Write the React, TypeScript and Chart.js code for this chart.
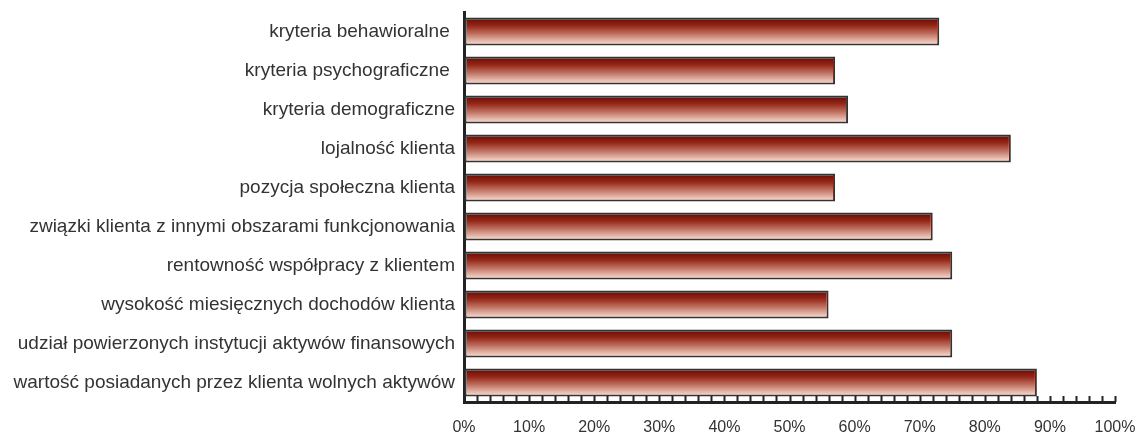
import React, { useEffect, useRef } from "react";
import { Chart, registerables } from "chart.js";

Chart.register(...registerables);

const categories = [
  "kryteria behawioralne ",
  "kryteria psychograficzne ",
  "kryteria demograficzne",
  "lojalność klienta",
  "pozycja społeczna klienta",
  "związki klienta z innymi obszarami funkcjonowania",
  "rentowność współpracy z klientem",
  "wysokość miesięcznych dochodów klienta",
  "udział powierzonych instytucji aktywów finansowych",
  "wartość posiadanych przez klienta wolnych aktywów",
];

const values = [73, 57, 59, 84, 57, 72, 75, 56, 75, 88];

const xMin = 0;
const xMax = 100;
const xStep = 10;
const minorStep = 2;

const BAR_PCT = 0.72;

const minorTicksPlugin = {
  id: "minorTicks",
  afterDatasetsDraw(chart: any) {
    const { ctx, chartArea, scales } = chart;
    const xs = scales.x;
    ctx.save();
    ctx.strokeStyle = "#222222";
    ctx.lineWidth = 2;
    for (let v = xMin; v <= xMax; v += minorStep) {
      const px = Math.round(xs.getPixelForValue(v)) + 0.5;
      ctx.beginPath();
      ctx.moveTo(px, chartArea.bottom);
      ctx.lineTo(px, chartArea.bottom - 6);
      ctx.stroke();
    }
    ctx.restore();
  },
};

export default function App() {
  const ref = useRef<HTMLCanvasElement | null>(null);

  useEffect(() => {
    document.body.style.margin = "0";
    if (!ref.current) return;
    const chart = new Chart(ref.current, {
      type: "bar",
      data: {
        labels: categories,
        datasets: [
          {
            data: values,
            backgroundColor: (c: any) => {
              const ch = c.chart;
              const ys = ch.scales && ch.scales.y;
              if (!ys || !ch.chartArea) return "#a04030";
              const center = ys.getPixelForValue(c.dataIndex);
              const h = (ys.height / categories.length) * BAR_PCT;
              const g = ch.ctx.createLinearGradient(0, center - h / 2, 0, center + h / 2);
              g.addColorStop(0, "#680500");
              g.addColorStop(0.3, "#942818");
              g.addColorStop(0.6, "#c07666");
              g.addColorStop(1, "#fbe8de");
              return g;
            },
            borderColor: "#333333",
            borderWidth: 2,
            borderSkipped: false,
            barPercentage: BAR_PCT,
            categoryPercentage: 1,
          },
        ],
      },
      options: {
        indexAxis: "y",
        animation: false,
        responsive: false,
        maintainAspectRatio: false,
        layout: { padding: { top: 12, right: 23, left: 0, bottom: 0 } },
        plugins: {
          legend: { display: false },
          tooltip: { enabled: false },
        },
        scales: {
          x: {
            min: xMin,
            max: xMax,
            afterFit: (s: any) => {
              s.height = 35;
              s.paddingLeft = 0;
              s.paddingRight = 0;
            },
            ticks: {
              stepSize: xStep,
              callback: (v: any) => v + "%",
              color: "#333333",
              padding: 16,
              maxRotation: 0,
              font: { family: "Liberation Sans, Arial, sans-serif", size: 16 },
            },
            grid: { display: true, color: "rgba(0,0,0,0)", drawTicks: false, drawOnChartArea: false },
            border: { display: true, color: "#222222", width: 3 },
          },
          y: {
            afterFit: (s: any) => {
              s.width = 464;
              s.paddingTop = 0;
              s.paddingBottom = 0;
            },
            ticks: {
              color: "#333333",
              padding: 9,
              autoSkip: false,
              font: { family: "Liberation Sans, Arial, sans-serif", size: 19 },
            },
            grid: { display: true, color: "rgba(0,0,0,0)", drawTicks: false, drawOnChartArea: false },
            border: { display: true, color: "#222222", width: 3 },
          },
        },
      },
      plugins: [minorTicksPlugin],
    });
    return () => chart.destroy();
  }, []);

  return (
    <div style={{ width: 1138, height: 437 }}>
      <canvas ref={ref} width={1138} height={437} style={{ display: "block" }} />
    </div>
  );
}
